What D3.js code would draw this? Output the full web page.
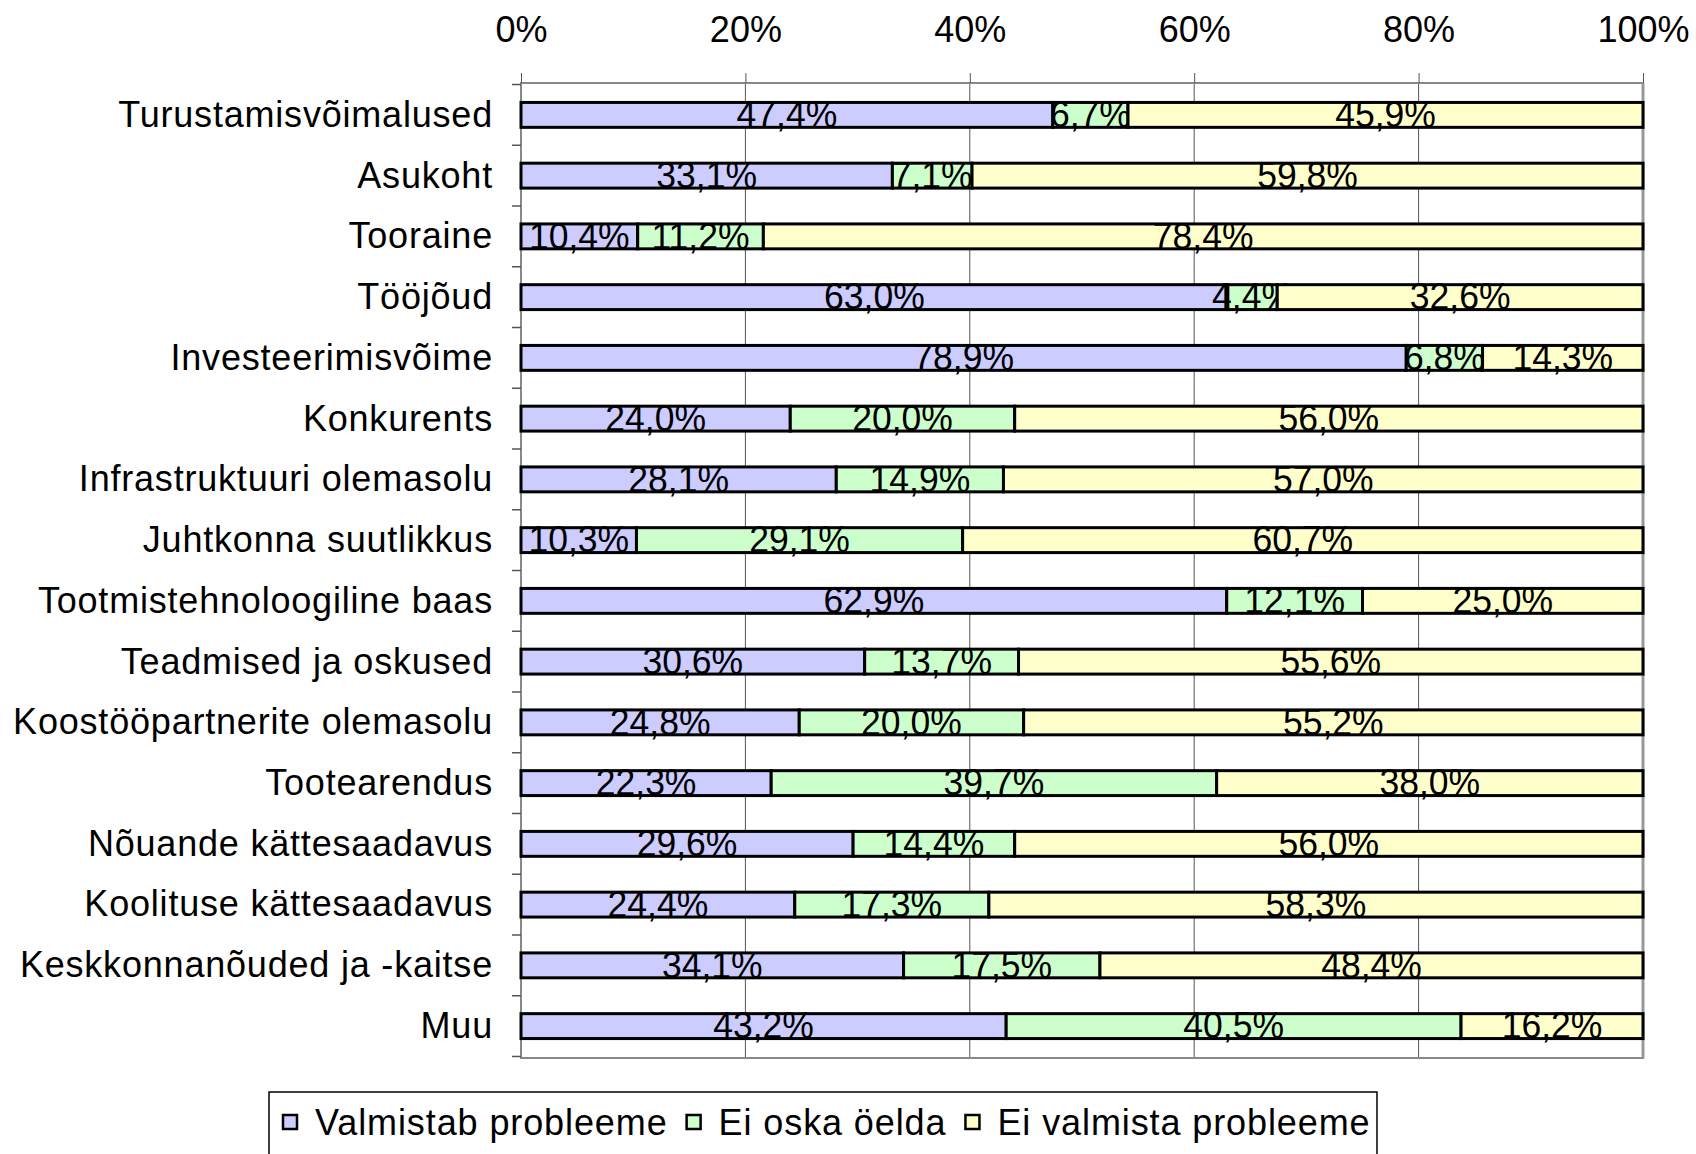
<!DOCTYPE html>
<html>
<head>
<meta charset="utf-8">
<script src="https://cdn.jsdelivr.net/npm/d3@7"></script>
<style>
  body { margin: 0; background: #fff; }
</style>
</head>
<body>
<div id="chart"></div>
<script>
// categories (top to bottom)
const categories = [
  "Turustamisvõimalused",
  "Asukoht",
  "Tooraine",
  "Tööjõud",
  "Investeerimisvõime",
  "Konkurents",
  "Infrastruktuuri olemasolu",
  "Juhtkonna suutlikkus",
  "Tootmistehnoloogiline baas",
  "Teadmised ja oskused",
  "Koostööpartnerite olemasolu",
  "Tootearendus",
  "Nõuande kättesaadavus",
  "Koolituse kättesaadavus",
  "Keskkonnanõuded ja -kaitse",
  "Muu"
];

const seriesNames = ["Valmistab probleeme", "Ei oska öelda", "Ei valmista probleeme"];

// values in %
const valmistab = [47.4, 33.1, 10.4, 63.0, 78.9, 24.0, 28.1, 10.3, 62.9, 30.6, 24.8, 22.3, 29.6, 24.4, 34.1, 43.2];
const eiOska    = [6.7, 7.1, 11.2, 4.4, 6.8, 20.0, 14.9, 29.1, 12.1, 13.7, 20.0, 39.7, 14.4, 17.3, 17.5, 40.5];
const eiValmista = [45.9, 59.8, 78.4, 32.6, 14.3, 56.0, 57.0, 60.7, 25.0, 55.6, 55.2, 38.0, 56.0, 58.3, 48.4, 16.2];

const xTicks = [0, 0.2, 0.4, 0.6, 0.8, 1];

const colors = ["#ccccff", "#ccffcc", "#ffffcc"];

/**************************************************************************************************/
const width = 1696, height = 1154;
const margin = {top: 83, left: 521, right: 53, bottom: 96};
const font = "'Liberation Sans', Arial, sans-serif";

const rows = categories.map((c, i) => ({
  cat: c,
  s0: valmistab[i],
  s1: eiOska[i],
  s2: eiValmista[i]
}));

const stack = d3.stack().keys(["s0", "s1", "s2"]).offset(d3.stackOffsetExpand);
const stacked = stack(rows);

const x = d3.scaleLinear([0, 1], [margin.left, width - margin.right]);
const y = d3.scaleBand(categories, [margin.top, height - margin.bottom])
  .paddingInner(0.59)
  .paddingOuter(0.32);

const svg = d3.select("#chart").append("svg")
  .attr("width", width)
  .attr("height", height)
  .attr("font-family", font);

/********************************************************************************************/
// gridlines + plot frame
svg.append("g")
  .selectAll("line")
  .data(xTicks.slice(1, -1))
  .join("line")
  .attr("x1", d => x(d)).attr("x2", d => x(d))
  .attr("y1", margin.top).attr("y2", height - margin.bottom)
  .attr("stroke", "#555")
  .attr("stroke-width", 1);

svg.append("rect")
  .attr("x", margin.left)
  .attr("y", margin.top)
  .attr("width", x(1) - x(0))
  .attr("height", height - margin.bottom - margin.top)
  .attr("fill", "none")
  .attr("stroke", "#888")
  .attr("stroke-width", 2);

svg.append("line")
  .attr("x1", x(1)).attr("x2", x(1))
  .attr("y1", margin.top).attr("y2", height - margin.bottom)
  .attr("stroke", "#999")
  .attr("stroke-width", 3);

/********************************************************************************************/
// top axis
const topAxis = svg.append("g")
  .attr("transform", `translate(0, ${margin.top})`)
  .call(d3.axisTop(x).tickValues(xTicks).tickFormat(d3.format(".0%")).tickSize(10).tickPadding(31));
topAxis.select(".domain").remove();
topAxis.selectAll("line").attr("stroke", "#555");
topAxis.selectAll("text")
  .attr("font-size", "36px")
  .attr("font-family", font)
  .attr("fill", "#000");

// left ticks at band boundaries
const step = y.step();
const bounds = categories.map(c => y(c) + y.bandwidth() / 2 - step / 2)
  .concat([y(categories[categories.length - 1]) + y.bandwidth() / 2 + step / 2]);
svg.append("g")
  .selectAll("line")
  .data(bounds)
  .join("line")
  .attr("x1", margin.left - 9).attr("x2", margin.left)
  .attr("y1", d => d).attr("y2", d => d)
  .attr("stroke", "#555")
  .attr("stroke-width", 1.5);

// category labels
svg.append("g")
  .selectAll("text")
  .data(categories)
  .join("text")
  .attr("x", margin.left - 28)
  .attr("y", d => y(d) + y.bandwidth() / 2)
  .attr("dy", "0.33em")
  .attr("text-anchor", "end")
  .attr("font-size", "36px")
  .attr("letter-spacing", "0.8px")
  .text(d => d);

/********************************************************************************************/
// bars
const layer = svg.append("g")
  .selectAll("g")
  .data(stacked)
  .join("g")
  .attr("fill", (d, i) => colors[i]);

layer.selectAll("rect")
  .data(d => d)
  .join("rect")
  .attr("x", d => x(d[0]))
  .attr("y", d => y(d.data.cat))
  .attr("width", d => x(d[1]) - x(d[0]))
  .attr("height", y.bandwidth())
  .attr("stroke", "#000")
  .attr("stroke-width", 3);

// value labels (original values, centred in segment)
const fmt = v => v.toFixed(1).replace(".", ",") + "%";
layer.selectAll("text")
  .data(d => d.map(p => ({p, key: d.key})))
  .join("text")
  .attr("transform", d => `translate(${x((d.p[0] + d.p[1]) / 2)}, ${y(d.p.data.cat) + y.bandwidth() / 2}) scale(0.96, 1)`)
  .attr("dy", "0.33em")
  .attr("text-anchor", "middle")
  .attr("font-size", "37px")
  .attr("fill", "#000")
  .text(d => fmt(d.p.data[d.key]));

/********************************************************************************************/
// legend
const legend = svg.append("g");
legend.append("rect")
  .attr("x", 269).attr("y", 1092)
  .attr("width", 1108).attr("height", 80)
  .attr("fill", "#fff")
  .attr("stroke", "#000")
  .attr("stroke-width", 1.5);

let lx = 283;
seriesNames.forEach((name, i) => {
  legend.append("rect")
    .attr("x", lx).attr("y", 1115)
    .attr("width", 14).attr("height", 14)
    .attr("fill", colors[i])
    .attr("stroke", "#000")
    .attr("stroke-width", 2.5);
  const t = legend.append("text")
    .attr("x", lx + 32)
    .attr("y", 1135)
    .attr("font-size", "36px")
    .attr("letter-spacing", "0.9px")
    .text(name);
  lx += 32 + t.node().getComputedTextLength() + 19;
});
</script>
</body>
</html>
